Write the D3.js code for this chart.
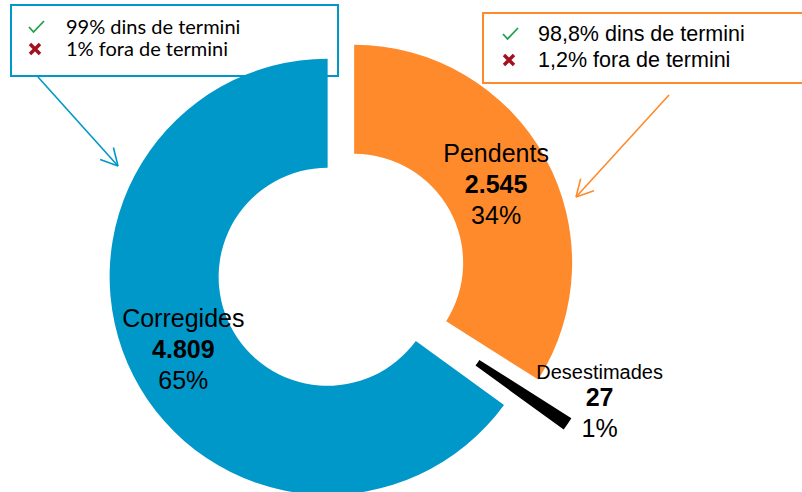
<!DOCTYPE html>
<html lang="ca">
<head>
  <meta charset="UTF-8">
  <script src="https://d3js.org/d3.v7.min.js"></script>
  <title>Queixes</title>
  <style>
    body { margin: 0; background: #fff; }
  </style>
</head>
<body>
  <svg id="chart" width="802" height="492"></svg>
  <script>
    // data
    const categories = ['Pendents', 'Desestimades', 'Corregides'];
    const counts = ['2.545', '27', '4.809'];
    const shares = [34, 1, 65];           // the slices follow the rounded percentages
    const pctLabels = ['34%', '1%', '65%'];
    const blueNotes = ['99% dins de termini', '1% fora de termini'];
    const orangeNotes = ['98,8% dins de termini', '1,2% fora de termini'];

    const colors = ['#fe8a2b', '#000000', '#0097c9'];
    const explode = [15, 56, 15];

    const cx = 341, cy = 270, outerR = 218, innerR = 109;
    const svg = d3.select('#chart');

    // callout boxes sit behind the donut
    const boxes = svg.append('g');
    boxes.append('rect')
      .attr('x', 11).attr('y', 5).attr('width', 327).attr('height', 71)
      .attr('fill', 'none').attr('stroke', colors[2]).attr('stroke-width', 2);
    boxes.append('rect')
      .attr('x', 483).attr('y', 13).attr('width', 340).attr('height', 70)
      .attr('fill', 'none').attr('stroke', colors[0]).attr('stroke-width', 2);

    const pie = d3.pie().sort(null).value(d => d);
    const arc = d3.arc().innerRadius(innerR).outerRadius(outerR);
    const slices = pie(shares);

    const offset = (d, i) => {
      const a = (d.startAngle + d.endAngle) / 2;
      return [cx + Math.sin(a) * explode[i], cy - Math.cos(a) * explode[i]];
    };

    const sliceG = svg.selectAll('g.slice')
      .data(slices)
      .enter()
      .append('g')
      .attr('class', 'slice')
      .attr('transform', (d, i) => `translate(${offset(d, i)})`);

    sliceG.append('path')
      .attr('d', arc)
      .attr('fill', (d, i) => colors[i]);

    // labels: inside the two big slices, outside for the small one
    const labelArc = d3.arc().innerRadius(162).outerRadius(162);
    sliceG.each(function(d, i) {
      const g = d3.select(this);
      let x, y, nameSize = 25;
      if (i === 1) {
        const a = (d.startAngle + d.endAngle) / 2;
        x = Math.sin(a) * outerR + 32;
        y = -Math.cos(a) * outerR - 26;
        nameSize = 20;
      } else {
        [x, y] = labelArc.centroid(d);
      }
      const t = g.append('text')
        .attr('text-anchor', 'middle')
        .attr('font-family', 'Liberation Sans, Arial, sans-serif')
        .attr('fill', '#000');
      t.append('tspan').attr('x', x).attr('y', y - (i === 1 ? 19 : 23))
        .attr('font-size', nameSize).text(categories[i]);
      t.append('tspan').attr('x', x).attr('y', y + 8)
        .attr('font-size', 25).attr('font-weight', 'bold').text(counts[i]);
      t.append('tspan').attr('x', x).attr('y', y + 39)
        .attr('font-size', 25).text(pctLabels[i]);
    });

    // tick and cross symbols, drawn as small paths
    const tick = (x, y) => svg.append('path')
      .attr('d', `M${x},${y + 6} L${x + 4.5},${y + 11} L${x + 15},${y}`)
      .attr('fill', 'none').attr('stroke', '#1fa04a').attr('stroke-width', 1.8);
    const cross = (x, y, s) => svg.append('path')
      .attr('d', `M${x},${y} L${x + s},${y + s} M${x + s},${y} L${x},${y + s}`)
      .attr('fill', 'none').attr('stroke', '#a50f1e').attr('stroke-width', 3.4);

    // note lines inside the boxes
    const notes = (lines, x0, xText, y0, step, size, family) => {
      lines.forEach((txt, k) => {
        if (k === 0) tick(x0, y0 - 13);
        else cross(x0 + 1, y0 + k * step - 12, 10);
        svg.append('text')
          .attr('x', xText).attr('y', y0 + k * step)
          .attr('font-family', family)
          .attr('font-size', size)
          .attr('fill', '#000')
          .text(txt);
      });
    };
    notes(blueNotes, 29, 66, 34, 22, 20, 'Lato, sans-serif');
    notes(orangeNotes, 503, 538, 41, 26, 21.5, 'Liberation Sans, Arial, sans-serif');

    // callout arrows
    const arrow = (x1, y1, x2, y2, color) => {
      const back = Math.atan2(y1 - y2, x1 - x2);
      const len = 19, spread = 0.49;
      svg.append('line')
        .attr('x1', x1).attr('y1', y1).attr('x2', x2).attr('y2', y2)
        .attr('stroke', color).attr('stroke-width', 1.6);
      [-spread, spread].forEach(s => {
        svg.append('line')
          .attr('x1', x2).attr('y1', y2)
          .attr('x2', x2 + Math.cos(back + s) * len)
          .attr('y2', y2 + Math.sin(back + s) * len)
          .attr('stroke', color).attr('stroke-width', 1.6);
      });
    };
    arrow(38, 77, 118, 166, colors[2]);
    arrow(669, 95, 576, 197, colors[0]);
  </script>
</body>
</html>
